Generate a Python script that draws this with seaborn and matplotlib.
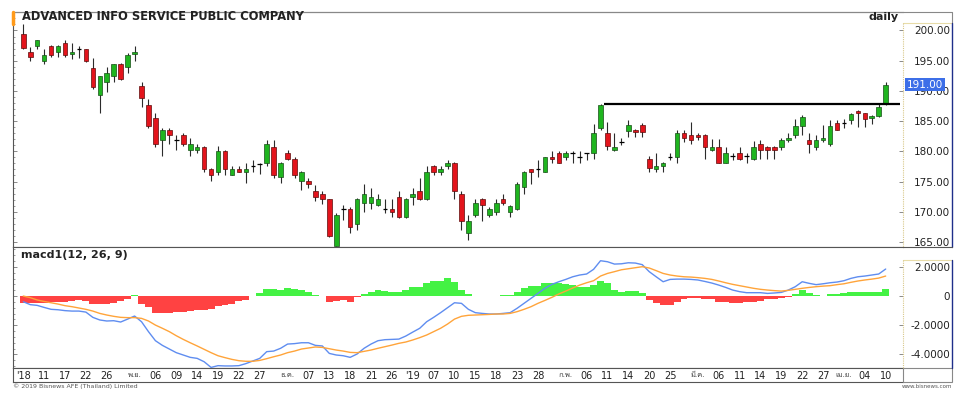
import numpy as np
import pandas as pd
import matplotlib
matplotlib.use("Agg")
import matplotlib.pyplot as plt
import matplotlib.transforms as mtransforms
from matplotlib.lines import Line2D
from matplotlib.patches import Rectangle
from matplotlib import font_manager as fm
from matplotlib.ft2font import FT2Font
import seaborn as sns

# ราคาเปิด/สูง/ต่ำ/ปิด รายวัน ADVANC (8 ต.ค. 2018 - 10 เม.ย. 2019)
opens = [199.5, 196.4, 197.5, 195.0, 197.4, 196.5, 197.9, 196.1, 197.0, 196.9,
         193.8, 189.3, 191.4, 192.4, 194.4, 193.9, 196.1, 190.8, 187.7, 185.5,
         181.8, 183.6, 181.8, 182.7, 180.2, 180.2, 180.7, 177.0, 176.6, 180.1,
         176.1, 177.0, 176.6, 177.6, 177.9, 178.1, 180.7, 175.7, 179.7, 178.7,
         175.1, 175.1, 173.5, 173.0, 172.1, 164.3, 170.4, 170.4, 168.0, 171.5,
         171.5, 171.1, 170.4, 170.4, 172.5, 169.1, 172.5, 173.5, 172.1, 177.6,
         176.6, 177.6, 178.1, 173.0, 166.4, 169.5, 172.1, 169.5, 170.0, 172.1,
         170.0, 170.4, 174.1, 177.0, 177.0, 176.6, 179.1, 179.7, 179.1, 179.7,
         179.1, 179.7, 179.7, 183.8, 183.1, 180.2, 181.6, 183.4, 183.6, 184.4,
         178.7, 177.1, 177.6, 179.1, 179.1, 183.1, 182.7, 182.7, 182.7, 180.2,
         180.7, 178.1, 179.2, 179.7, 179.2, 178.7, 181.2, 180.7, 180.7, 180.7,
         181.8, 182.7, 184.2, 181.8, 180.7, 181.8, 181.2, 184.7, 184.7, 185.1,
         186.7, 186.3, 185.5, 185.8, 187.8]
highs = [201.0, 197.3, 198.5, 196.9, 197.6, 197.6, 198.5, 197.9, 197.4, 197.0,
         195.4, 192.4, 194.0, 194.5, 194.6, 196.3, 197.4, 191.4, 188.7, 186.3,
         183.9, 183.8, 182.7, 183.0, 182.2, 181.2, 180.8, 177.2, 180.8, 180.2,
         177.6, 177.6, 178.1, 178.6, 178.1, 181.8, 181.8, 178.2, 180.2, 179.1,
         176.7, 175.6, 174.4, 173.5, 172.1, 169.8, 171.1, 170.8, 172.2, 174.6,
         173.9, 173.0, 172.1, 172.1, 173.5, 172.2, 173.9, 175.6, 177.6, 177.7,
         177.6, 178.6, 178.2, 173.5, 169.5, 172.1, 172.2, 170.8, 172.1, 173.0,
         171.1, 175.0, 176.7, 177.1, 178.6, 179.1, 180.1, 180.1, 180.1, 180.1,
         180.1, 179.7, 184.6, 187.9, 184.9, 183.1, 182.2, 185.2, 183.7, 184.7,
         179.2, 179.7, 178.2, 179.7, 183.6, 183.6, 184.9, 183.1, 182.8, 182.1,
         182.1, 180.7, 179.7, 180.7, 179.7, 181.7, 181.8, 180.8, 180.8, 182.2,
         183.1, 185.3, 186.0, 183.1, 182.7, 184.4, 185.2, 185.2, 185.3, 186.4,
         186.8, 186.4, 186.0, 187.8, 191.5]
lows = [197.0, 195.0, 197.0, 194.5, 195.6, 195.6, 195.6, 195.2, 195.4, 194.8,
        190.3, 186.3, 189.9, 191.4, 191.8, 192.9, 194.9, 187.3, 183.8, 180.7,
        179.2, 181.2, 180.2, 180.8, 179.2, 179.7, 176.5, 175.1, 176.0, 176.0,
        176.0, 176.5, 174.7, 176.6, 176.3, 177.6, 175.6, 174.7, 178.6, 175.6,
        173.6, 173.9, 171.8, 171.3, 165.8, 164.3, 168.6, 166.4, 167.0, 170.0,
        170.4, 170.9, 169.8, 169.1, 169.0, 169.0, 171.1, 172.0, 172.0, 176.1,
        176.1, 177.0, 172.1, 167.0, 165.4, 169.1, 168.5, 169.1, 169.5, 171.1,
        169.1, 170.3, 173.0, 174.6, 175.7, 176.6, 178.1, 178.0, 178.6, 178.1,
        178.1, 178.6, 178.7, 183.5, 180.2, 180.1, 181.1, 182.4, 182.4, 182.4,
        176.5, 176.6, 176.6, 178.6, 178.1, 181.6, 181.2, 181.8, 178.7, 180.1,
        178.0, 178.0, 178.6, 178.6, 178.1, 178.6, 178.7, 178.7, 178.7, 180.2,
        181.6, 182.2, 182.7, 179.7, 180.2, 181.6, 180.9, 183.5, 183.8, 184.6,
        184.0, 184.0, 184.6, 185.7, 187.7]
closes = [197.1, 195.6, 198.4, 195.9, 195.9, 197.4, 195.9, 196.5, 197.0, 194.9,
          190.6, 192.4, 192.9, 194.4, 191.9, 195.9, 196.5, 188.9, 184.2, 181.2,
          183.6, 182.7, 181.8, 181.2, 181.2, 180.7, 177.0, 176.1, 180.1, 177.0,
          177.0, 176.6, 177.0, 177.6, 177.9, 181.2, 176.1, 178.1, 178.7, 176.1,
          176.6, 174.6, 172.5, 172.1, 166.0, 169.5, 170.4, 167.4, 172.1, 173.0,
          172.5, 172.1, 170.4, 170.0, 169.1, 172.1, 173.0, 172.1, 176.6, 176.6,
          177.0, 178.1, 173.5, 168.5, 168.5, 171.5, 171.1, 170.4, 171.5, 171.5,
          171.0, 174.6, 176.6, 176.6, 177.0, 179.1, 178.7, 178.1, 179.7, 179.7,
          179.1, 179.7, 183.1, 187.7, 180.8, 180.7, 181.6, 184.4, 183.2, 183.2,
          177.2, 177.6, 178.1, 179.1, 183.1, 182.2, 181.8, 182.3, 180.7, 180.7,
          178.1, 179.7, 179.2, 178.7, 179.2, 180.7, 180.2, 180.2, 180.2, 181.8,
          182.2, 184.2, 185.7, 181.2, 181.8, 182.2, 184.2, 183.6, 184.7, 186.1,
          186.3, 185.3, 185.8, 187.3, 191.0]

# MACD(12,26,9)
macd_line = [-0.39, -0.59, -0.64, -0.78, -0.91, -0.94, -1.00, -1.03, -1.03, -1.10,
             -1.46, -1.64, -1.71, -1.69, -1.78, -1.58, -1.37, -1.76, -2.44, -3.06,
             -3.38, -3.63, -3.88, -4.04, -4.20, -4.27, -4.50, -4.89, -4.77, -4.79,
             -4.79, -4.77, -4.63, -4.45, -4.27, -3.81, -3.77, -3.58, -3.29, -3.26,
             -3.20, -3.20, -3.38, -3.42, -3.93, -4.04, -4.09, -4.20, -3.97, -3.58,
             -3.29, -3.06, -2.99, -2.97, -2.95, -2.74, -2.47, -2.21, -1.76, -1.46,
             -1.14, -0.80, -0.46, -0.50, -0.91, -1.14, -1.19, -1.23, -1.23, -1.19,
             -1.14, -0.84, -0.50, -0.16, 0.18, 0.53, 0.80, 0.98, 1.14, 1.32,
             1.44, 1.51, 1.83, 2.42, 2.35, 2.19, 2.21, 2.28, 2.26, 2.15,
             1.67, 1.32, 0.98, 1.14, 1.16, 1.16, 1.14, 1.10, 1.00, 0.89,
             0.75, 0.59, 0.41, 0.30, 0.23, 0.23, 0.23, 0.18, 0.21, 0.25,
             0.41, 0.64, 0.98, 0.87, 0.78, 0.84, 0.91, 0.96, 1.05, 1.21,
             1.32, 1.37, 1.44, 1.51, 1.85]
signal_line = [0.00, -0.11, -0.27, -0.37, -0.46, -0.55, -0.66, -0.73, -0.82, -0.91,
               -1.03, -1.19, -1.30, -1.39, -1.46, -1.48, -1.48, -1.53, -1.71, -1.99,
               -2.21, -2.44, -2.72, -2.97, -3.20, -3.42, -3.65, -3.88, -4.09, -4.22,
               -4.34, -4.43, -4.47, -4.47, -4.41, -4.29, -4.16, -4.04, -3.88, -3.77,
               -3.63, -3.56, -3.49, -3.52, -3.61, -3.70, -3.77, -3.86, -3.88, -3.79,
               -3.70, -3.58, -3.47, -3.36, -3.24, -3.15, -3.01, -2.85, -2.67, -2.44,
               -2.21, -1.92, -1.58, -1.39, -1.32, -1.30, -1.28, -1.26, -1.23, -1.23,
               -1.19, -1.07, -0.91, -0.73, -0.50, -0.30, -0.09, 0.14, 0.34, 0.55,
               0.75, 0.91, 1.05, 1.37, 1.55, 1.67, 1.80, 1.87, 1.94, 2.01,
               1.92, 1.74, 1.55, 1.44, 1.37, 1.32, 1.30, 1.26, 1.21, 1.14,
               1.03, 0.91, 0.80, 0.71, 0.62, 0.53, 0.46, 0.41, 0.37, 0.34,
               0.39, 0.46, 0.53, 0.59, 0.64, 0.68, 0.71, 0.78, 0.84, 0.94,
               1.03, 1.10, 1.16, 1.23, 1.37]
macd_hist = [-0.45, -0.50, -0.45, -0.45, -0.40, -0.40, -0.38, -0.33, -0.25, -0.35,
             -0.52, -0.55, -0.55, -0.45, -0.35, -0.18, 0.10, -0.55, -0.75, -1.15,
             -1.19, -1.19, -1.12, -1.07, -1.05, -0.98, -0.96, -0.90, -0.70, -0.62,
             -0.55, -0.35, -0.25, 0.02, 0.18, 0.46, 0.46, 0.41, 0.55, 0.48,
             0.43, 0.30, 0.10, 0.02, -0.39, -0.35, -0.28, -0.39, -0.05, 0.14,
             0.30, 0.41, 0.37, 0.30, 0.25, 0.41, 0.59, 0.59, 0.87, 1.05,
             1.05, 1.21, 0.98, 0.41, 0.11, 0.03, 0.02, 0.02, 0.00, 0.05,
             0.07, 0.30, 0.52, 0.68, 0.68, 0.87, 0.87, 0.87, 0.82, 0.75,
             0.64, 0.64, 0.75, 1.00, 0.87, 0.41, 0.28, 0.37, 0.37, 0.23,
             -0.27, -0.46, -0.62, -0.62, -0.39, -0.23, -0.16, -0.16, -0.23, -0.23,
             -0.39, -0.39, -0.46, -0.46, -0.42, -0.39, -0.32, -0.23, -0.23, -0.16,
             -0.08, 0.11, 0.41, 0.18, 0.07, 0.02, 0.11, 0.11, 0.18, 0.30,
             0.30, 0.30, 0.25, 0.25, 0.46]

# เส้นแนวต้าน
res_level = 187.75
res_start = 83.5
res_end = 126.0
last_price = 191.00

# ป้ายแกน x (ตำแหน่งแท่งเทียน)
tick_idx = [0, 3, 6, 9, 12, 16, 19, 22, 25, 28, 31, 34, 38, 41, 44, 47, 50, 53,
            56, 59, 62, 65, 68, 71, 74, 78, 81, 84, 87, 90, 93, 97, 100, 103,
            106, 109, 112, 115, 118, 121, 124]
tick_lbl = ["'18", "11", "17", "22", "26", "พ.ย.", "06", "09", "14", "19", "22",
            "27", "ธ.ค.", "07", "13", "18", "21", "26", "'19", "07", "10", "15",
            "18", "23", "28", "ก.พ.", "06", "11", "14", "20", "25", "มี.ค.",
            "06", "11", "14", "19", "22", "27", "เม.ย.", "04", "10"]
price_ticks = [165, 170, 175, 180, 185, 190, 195, 200]
macd_ticks = [2, 0, -2, -4]
macd_tick_lbl = ["2.0000", "0", "-2.0000", "-4.0000"]

df = pd.DataFrame({'i': np.arange(len(closes)), 'open': opens, 'high': highs,
                   'low': lows, 'close': closes, 'macd': macd_line,
                   'signal': signal_line, 'hist': macd_hist})

sns.set_theme(style="white")
plt.rcParams['font.family'] = ['DejaVu Sans']

# หาฟอนต์ที่มีอักษรไทย
thai_font = None
for f in fm.fontManager.ttflist:
    try:
        if 0x0E1E in FT2Font(f.fname).get_charmap():
            thai_font = f.name
            break
    except Exception:
        pass
thai_fam = [thai_font, 'DejaVu Sans'] if thai_font else ['DejaVu Sans']

W, H = 960, 409
def rect(x0, y0, x1, y1):
    return [x0 / W, 1 - y1 / H, (x1 - x0) / W, (y1 - y0) / H]

fig = plt.figure(figsize=(9.6, 4.09), dpi=100)
fig.patch.set_facecolor('white')
ax1 = fig.add_axes(rect(13, 12, 903, 247))
ax2 = fig.add_axes(rect(13, 247, 903, 368), sharex=ax1)
ax3 = fig.add_axes(rect(13, 368, 903, 382), sharex=ax1)

GREEN = '#1fb51f'
RED = '#e3141c'

# แท่งเทียน
up = df[df['close'] > df['open']]
dn = df[df['close'] < df['open']]
eq = df[df['close'] == df['open']]
ax1.vlines(df['i'], df['low'], df['high'], color='#2b2b2b', lw=0.8, zorder=2)
ax1.bar(up['i'], up['close'] - up['open'], bottom=up['open'], width=0.66,
        color=GREEN, edgecolor='#174d17', linewidth=0.5, zorder=3)
ax1.bar(dn['i'], dn['open'] - dn['close'], bottom=dn['close'], width=0.66,
        color=RED, edgecolor='#5c0b0b', linewidth=0.5, zorder=3)
ax1.hlines(eq['close'], eq['i'] - 0.33, eq['i'] + 0.33, color='black', lw=0.9, zorder=3)
ax1.hlines(res_level, res_start, res_end, color='black', lw=1.6, zorder=4)

xl = (-1.48, 126.49)
ax1.set_xlim(*xl)
ax1.set_ylim(164.16, 203.06)

# MACD
hist_colors = ['#44f244' if h >= 0 else '#ff4242' for h in macd_hist]
ax2.bar(df['i'], df['hist'], width=1.0, color=hist_colors, linewidth=0, zorder=1)
sns.lineplot(data=df, x='i', y='macd', ax=ax2, color='#5f8df0', linewidth=1.0, zorder=3)
sns.lineplot(data=df, x='i', y='signal', ax=ax2, color='#ffa43a', linewidth=1.0, zorder=3)
ax2.set_ylim(-4.93, 3.36)

for ax in (ax1, ax2, ax3):
    ax.set_xlabel('')
    ax.set_ylabel('')
    ax.set_facecolor('white')
    for s in ax.spines.values():
        s.set_color('#555555')
        s.set_linewidth(0.8)
    ax.spines['right'].set_visible(False)
    ax.tick_params(axis='x', bottom=False, labelbottom=False)

for ax, ticks, labels in ((ax1, price_ticks, ['%.2f' % t for t in price_ticks]),
                          (ax2, macd_ticks, macd_tick_lbl)):
    ax.yaxis.set_ticks_position('both')
    ax.set_yticks(ticks, labels, ha='right')
    ax.yaxis.set_minor_locator(matplotlib.ticker.AutoMinorLocator(5))
    ax.tick_params(axis='y', which='both', direction='in', left=True, right=True,
                   labelleft=False, labelright=True, color='#777777')
    ax.tick_params(axis='y', which='major', length=3, width=0.6, pad=34,
                   labelsize=7.5, labelcolor='#222222')
    ax.tick_params(axis='y', which='minor', length=1.5, width=0.5, right=False)

ax3.set_yticks([])
ax3.set_ylim(0, 1)
trans3 = mtransforms.blended_transform_factory(ax3.transData, ax3.transAxes)
for x, lbl in zip(tick_idx, tick_lbl):
    if lbl.isascii():
        ax3.text(x, 0.45, lbl, transform=trans3, ha='center', va='center',
                 fontsize=7, color='#222222')
    else:
        ax3.text(x, 0.45, lbl, transform=trans3, ha='center', va='center',
                 fontsize=5.5, color='#444444', family=thai_fam)

# ป้ายราคาล่าสุด
trans1 = mtransforms.blended_transform_factory(ax1.transAxes, ax1.transData)
ax1.text(1.0045, last_price, '%.2f' % last_price, transform=trans1, ha='left',
         va='center', fontsize=7.5, color='white', clip_on=False, zorder=10,
         bbox=dict(boxstyle='square,pad=0.15', fc='#3d6fe8', ec='none'))

# ข้อความ
fig.text(22 / W, 1 - 17 / H, 'ADVANCED INFO SERVICE PUBLIC COMPANY', fontsize=8.3,
         fontweight='bold', color='#222222', va='center', ha='left')
fig.text(899 / W, 1 - 17 / H, 'daily', fontsize=8, fontweight='bold',
         color='#222222', va='center', ha='right')
fig.text(21 / W, 1 - 255 / H, 'macd1(12, 26, 9)', fontsize=8, fontweight='bold',
         color='#222222', va='center', ha='left')
fig.text(13 / W, 1 - 386 / H, '\u00a9 2019 Bisnews AFE (Thailand) Limited',
         fontsize=4.5, color='#555555', va='center', ha='left')
fig.text(952 / W, 1 - 386 / H, 'www.bisnews.com', fontsize=4,
         color='#555555', va='center', ha='right')

# กรอบ
def fline(xs, ys, **kw):
    fig.add_artist(Line2D([x / W for x in xs], [1 - y / H for y in ys], **kw))

fline([13, 952, 952], [12, 12, 23], color='#888888', lw=0.8)
fline([13, 13], [12, 24], color='#ff9a1a', lw=2.5)
for y0, y1 in ((23, 247), (260, 368)):
    fline([903, 952], [y0, y0], color='#e8dca8', lw=0.8)
    fline([903, 903], [y0, y1], color='#d8c88a', lw=0.8, ls=(0, (1, 1)))
    fline([951.5, 951.5], [y0, y1], color='#1f2f8a', lw=1.0)
fline([903, 952], [247, 247], color='#555555', lw=0.8)
fig.add_artist(Rectangle((903 / W, 1 - 382 / H), 49 / W, 14 / H, fill=False,
                         ec='#888888', lw=0.8))

fig.savefig('out.png', dpi=100, facecolor='white')
